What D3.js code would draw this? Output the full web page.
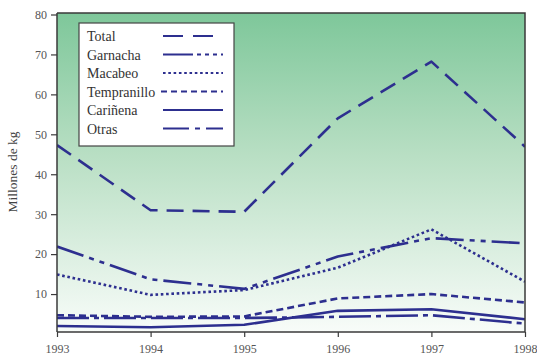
<!DOCTYPE html>
<html>
<head>
<meta charset="utf-8">
<script src="https://cdn.jsdelivr.net/npm/d3@7"></script>
<style>
  html, body { margin: 0; padding: 0; background: #fff; }
  svg { display: block; }
</style>
</head>
<body>
<svg id="chart" width="537" height="356"></svg>
<script>
// ---- data ----
const years = [1993, 1994, 1995, 1996, 1997, 1998];
const yTicks = [10, 20, 30, 40, 50, 60, 70, 80];
const seriesNames = ["Total", "Garnacha", "Macabeo", "Tempranillo", "Cariñena", "Otras"];
const total       = [47.3, 31.0, 30.6, 54.0, 68.2, 46.9];
const garnacha    = [21.9, 13.7, 11.3, 19.4, 24.0, 22.7];
const macabeo     = [14.9, 9.8, 11.0, 16.6, 26.2, 13.1];
const tempranillo = [4.7, 4.3, 4.4, 8.9, 10.0, 7.9];
const carinena    = [2.0, 1.7, 2.3, 5.8, 6.2, 3.7];
const otras       = [4.0, 4.0, 4.0, 4.3, 4.7, 2.6];
const seriesValues = [total, garnacha, macabeo, tempranillo, carinena, otras];

// ---- styles ----
const lineColor = "#2d2f8f";
const chartDash = ["17,9", "28,6,5,6,5,6", "2.6,2.7", "7,4", null, "32,5,5,5"];
const legendDash = ["20,10", "30,4,4,4,4,4,4,4,4,4", "2.6,2.7", "6,4", null, "26,6,5,6,26"];

const svg = d3.select("#chart");
const mLeft = 57, mRight = 525, mTop = 13, mBottom = 332;

const x = d3.scaleLinear().domain([1993, 1998]).range([mLeft, mRight]);
const y = d3.scaleLinear().domain([0, 80]).range([334, 14.5]);

// gradient background
const defs = svg.append("defs");
const grad = defs.append("linearGradient").attr("id", "bg")
  .attr("x1", 0).attr("y1", 0).attr("x2", 0).attr("y2", 1);
grad.append("stop").attr("offset", "0%").attr("stop-color", "#7ec79a");
grad.append("stop").attr("offset", "45%").attr("stop-color", "#b9dfc4");
grad.append("stop").attr("offset", "100%").attr("stop-color", "#f8fcf9");

svg.append("rect")
  .attr("x", mLeft).attr("y", mTop)
  .attr("width", mRight - mLeft).attr("height", mBottom - mTop)
  .attr("fill", "url(#bg)");

// clip
defs.append("clipPath").attr("id", "clip")
  .append("rect").attr("x", mLeft).attr("y", mTop)
  .attr("width", mRight - mLeft).attr("height", mBottom - mTop);

// lines
const line = d3.line()
  .x((d, i) => x(years[i]))
  .y(d => y(d));

const g = svg.append("g").attr("clip-path", "url(#clip)");
seriesValues.forEach((vals, k) => {
  g.append("path")
    .datum(vals)
    .attr("d", line)
    .attr("fill", "none")
    .attr("stroke", lineColor)
    .attr("stroke-width", 2.6)
    .attr("stroke-linejoin", "round")
    .attr("stroke-dasharray", chartDash[k]);
});

// frame top & right
svg.append("path")
  .attr("d", `M${mLeft},${mTop}H${mRight}V${mBottom}`)
  .attr("fill", "none").attr("stroke", "#3a3a3a").attr("stroke-width", 1.5);

// y axis
const yAxis = d3.axisLeft(y).tickValues(yTicks).tickSize(6).tickPadding(4)
  .tickFormat(d3.format("d"));
const ya = svg.append("g").attr("transform", `translate(${mLeft},0)`).call(yAxis);
ya.select(".domain").remove();
ya.append("line").attr("x1", 0).attr("x2", 0).attr("y1", mTop).attr("y2", mBottom)
  .attr("stroke", "#3a3a3a").attr("stroke-width", 1.5);
ya.selectAll(".tick line").attr("stroke", "#3a3a3a").attr("stroke-width", 1.2);
ya.selectAll(".tick text")
  .attr("fill", "#555")
  .style("font-family", "'Liberation Serif', 'DejaVu Serif', serif")
  .style("font-size", "12px");

// x axis
const xAxis = d3.axisBottom(x).tickValues(years).tickSize(5).tickPadding(7)
  .tickFormat(d3.format("d"));
const xa = svg.append("g").attr("transform", `translate(0,${mBottom})`).call(xAxis);
xa.select(".domain").remove();
xa.append("line").attr("x1", mLeft).attr("x2", mRight).attr("y1", 0).attr("y2", 0)
  .attr("stroke", "#3a3a3a").attr("stroke-width", 1.5);
xa.selectAll(".tick line").attr("stroke", "#3a3a3a").attr("stroke-width", 1.2);
xa.selectAll(".tick text")
  .attr("fill", "#555")
  .style("font-family", "'Liberation Serif', 'DejaVu Serif', serif")
  .style("font-size", "12px");

// y label
svg.append("text")
  .attr("transform", "translate(17,172) rotate(-90)")
  .attr("text-anchor", "middle")
  .attr("fill", "#444")
  .style("font-family", "'Liberation Serif', 'DejaVu Serif', serif")
  .style("font-size", "13.5px")
  .text("Millones de kg");

// legend
const lg = svg.append("g");
lg.append("rect")
  .attr("x", 79).attr("y", 23).attr("width", 155).attr("height", 123)
  .attr("fill", "#fff").attr("stroke", "#444").attr("stroke-width", 1.2);
seriesNames.forEach((name, k) => {
  const cy = 36 + k * 18.5;
  lg.append("text")
    .attr("x", 87).attr("y", cy + 5)
    .attr("fill", "#333")
    .style("font-family", "'Liberation Serif', 'DejaVu Serif', serif")
    .style("font-size", "14px")
    .text(name);
  lg.append("line")
    .attr("x1", k === 3 ? 161 : 163).attr("x2", 223)
    .attr("y1", cy).attr("y2", cy)
    .attr("stroke", lineColor)
    .attr("stroke-width", 2)
    .attr("stroke-dasharray", legendDash[k]);
});
</script>
</body>
</html>
